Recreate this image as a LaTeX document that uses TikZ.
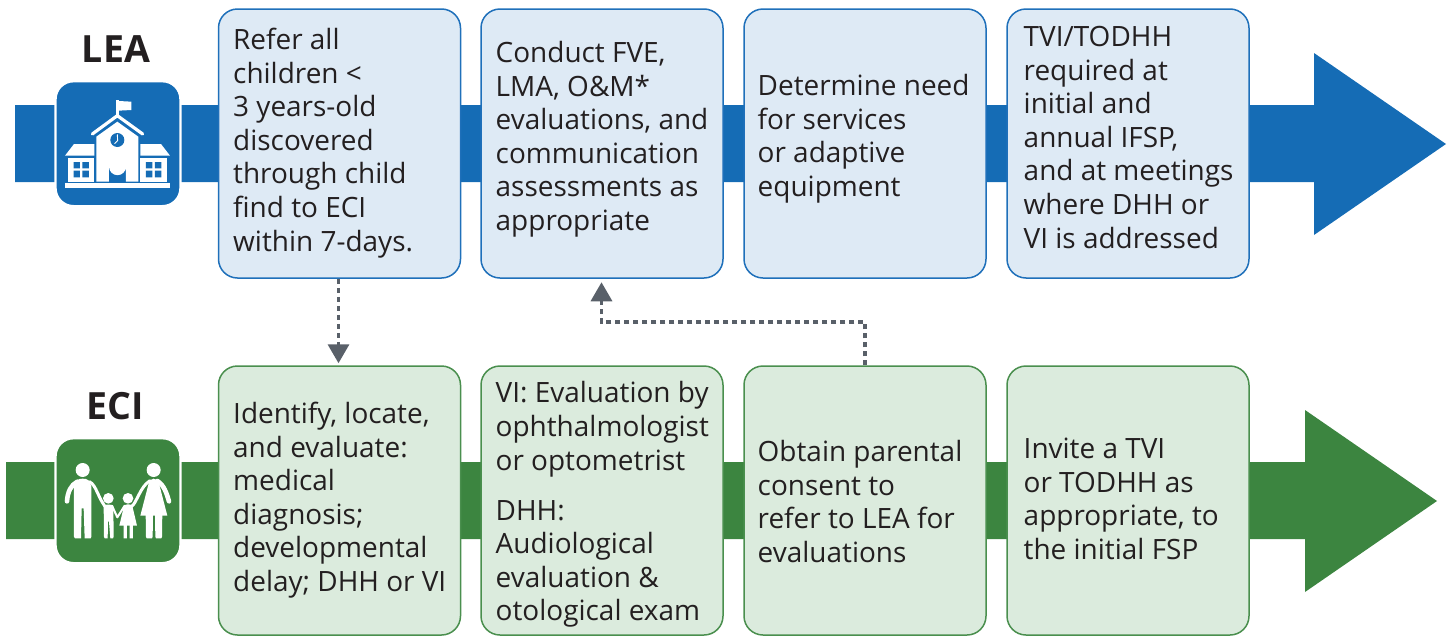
\documentclass[tikz,border=0pt]{standalone}
\usepackage{fontspec}
\setmainfont{Open Sans}
\usetikzlibrary{arrows.meta,calc}
\definecolor{leablue}{HTML}{156CB5}
\definecolor{leafill}{HTML}{DEEAF5}
\definecolor{leaedge}{HTML}{1F70BA}
\definecolor{ecigreen}{HTML}{3C8540}
\definecolor{ecifill}{HTML}{DBEBDD}
\definecolor{eciedge}{HTML}{4A8F4E}
\definecolor{linkgray}{HTML}{596069}
\definecolor{inkdark}{HTML}{231F20}
\tikzset{
  x=1pt,y=-1pt,
  panel/.style={rectangle,rounded corners=19pt,line width=1.5pt,minimum width=242pt,minimum height=269pt,inner sep=0pt},
  leabox/.style={panel,draw=leaedge,fill=leafill},
  ecibox/.style={panel,draw=eciedge,fill=ecifill},
  bodytext/.style={anchor=north west,inner sep=0pt,align=left,text=inkdark,font=\fontsize{27.95}{33.6}\selectfont},
  heading/.style={inner sep=0pt,text=inkdark,font=\fontsize{37.5}{40}\selectfont\bfseries},
  iconbox/.style={rectangle,rounded corners=18pt,draw=white,line width=2.4pt,minimum width=125pt,minimum height=125pt,inner sep=0pt},
  link/.style={draw=linkgray,line width=3.4pt,dash pattern=on 5pt off 4pt,-{Triangle[length=19pt,width=21pt,color=linkgray]}},
}
\newcommand{\linesat}[4]{\node[bodytext] (#1) at (#2,#3-20) {\rule{0pt}{20pt}#4};}
\begin{document}
\begin{tikzpicture}
\useasboundingbox (0,0) rectangle (1452,635);
% band arrows
\fill[leablue] (15,105) -- (1314,105) -- (1314,53) -- (1446,144) -- (1314,235) -- (1314,182) -- (15,182) -- cycle;
\fill[ecigreen] (6,462) -- (1305,462) -- (1305,410) -- (1437,501) -- (1305,592) -- (1305,539) -- (6,539) -- cycle;
% boxes
\node[leabox] (lea1) at (339.5,143.5) {};
\node[leabox] (lea2) at (602,143.5) {};
\node[leabox] (lea3) at (865,143.5) {};
\node[leabox] (lea4) at (1128,143.5) {};
\node[ecibox] (eci1) at (339.5,500.5) {};
\node[ecibox] (eci2) at (602,500.5) {};
\node[ecibox] (eci3) at (865,500.5) {};
\node[ecibox] (eci4) at (1128,500.5) {};
% texts
\linesat{tlea1}{233}{48}{Refer all\\children <\\3 years-old\\discovered\\through child\\find to ECI\\within 7-days.}
\linesat{tlea2}{495.5}{61}{Conduct FVE,\\LMA, O\&M*\\evaluations, and\\communication\\assessments as\\appropriate}
\linesat{tlea3}{757.5}{94}{Determine need\\for services\\or adaptive\\equipment}
\linesat{tlea4}{1023.5}{46}{TVI/TODHH\\required at\\initial and\\annual IFSP,\\and at meetings\\where DHH or\\VI is addressed}
\linesat{teci1}{233}{422}{Identify, locate,\\and evaluate:\\medical\\diagnosis;\\developmental\\delay; DHH or VI}
\linesat{teci2}{495.5}{401.5}{VI: Evaluation by\\ophthalmologist\\or optometrist\\[16.4pt]DHH:\\Audiological\\evaluation \&\\otological exam}
\linesat{teci3}{757.5}{460}{Obtain parental\\consent to\\refer to LEA for\\evaluations}
\linesat{teci4}{1023.5}{458}{Invite a TVI\\or TODHH as\\appropriate, to\\the initial FSP}
% headings
\node[heading] (hlea) at (116,49) {LEA};
\node[heading] (heci) at (115,406) {ECI};
% connectors
\coordinate (downx) at (338.5,0);
\coordinate (upx) at (601.5,0);
\coordinate (startx) at (865,0);
\coordinate (elbow) at (865,322);
\draw[link,shorten >=2pt] (lea1.south -| downx) -- (eci1.north -| downx);
\draw[link,shorten >=3.5pt] (eci3.north -| startx) -- (elbow) -- (elbow -| upx) -- (lea2.south -| upx);
% school icon
\node[iconbox,fill=leablue] (school) at (118,143.7) {};
\begin{scope}[shift={(0,20)},x=0.33333pt,y=-0.33333pt]
  \fill[white] (349,240) rectangle (356,290);
  \fill[white] (356,243) -- (394,245) -- (394,270) -- (356,272) -- cycle;
  \draw[white,line width=3.2pt,line cap=round,line join=miter] (277,342) -- (352,287) -- (428,342);
  \fill[white] (289,350) -- (352,305) -- (415,350) -- (415,485) -- (378,485) -- (378,440) arc[start angle=0,end angle=180,x radius=25.5,y radius=25.5] -- (327,485) -- (289,485) -- cycle;
  \fill[leablue] (352,360) circle[radius=21];
  \draw[white,line width=0.9pt,line cap=round] (352,344) -- (353,362) -- (344,371);
  \fill[white] (195,407) -- (222,372) -- (283,372) -- (283,407) -- cycle;
  \fill[white] (421,372) -- (483,372) -- (510,407) -- (421,407) -- cycle;
  \fill[white] (205,415) rectangle (283,485);
  \fill[white] (421,415) rectangle (500,485);
  \fill[leablue] (221,426) rectangle (240,445) (247,426) rectangle (267,445) (221,452) rectangle (240,472) (247,452) rectangle (267,472);
  \fill[leablue] (438,426) rectangle (457,445) (465,426) rectangle (484,445) (438,452) rectangle (457,472) (465,452) rectangle (484,472);
  \fill[white] (194,490) rectangle (510,503);
\end{scope}
% family icon
\node[iconbox,fill=ecigreen] (family) at (118,500.7) {};
\begin{scope}[shift={(0,380)},x=0.33333pt,y=-0.33333pt,line cap=round,line join=round]
  % heads
  \fill[white] (248,270) circle[radius=21] (461,270) circle[radius=21] (325,355) circle[radius=16] (384,355) circle[radius=16];
  % father
  \fill[white] (222,320) .. controls (225,300) and (235,296) .. (248,296) .. controls (262,296) and (270,300) .. (274,320) -- (274,470) -- (272,475) -- (254,475) -- (251,385) -- (245,385) -- (243,475) -- (225,475) -- (222,470) -- cycle;
  \draw[white,line width=4.6pt] (201,364) .. controls (203,335) and (213,315) .. (232,305);
  \draw[white,line width=3pt] (268,305) .. controls (290,315) and (293,355) .. (322,388);
  % child one
  \fill[white] (311,378) .. controls (315,372) and (335,372) .. (340,378) -- (341,470) -- (339,475) -- (331,475) -- (327,425) -- (324,425) -- (323,475) -- (314,475) -- (312,470) -- cycle;
  \draw[white,line width=2pt] (336,377) -- (352,412) -- (374,377);
  % child two
  \fill[white] (372,378) .. controls (378,371) and (391,371) .. (397,378) -- (411,437) -- (358,437) -- cycle;
  \fill[white] (371,435) rectangle (381,475) (389,435) rectangle (399,475);
  \draw[white,line width=3pt] (394,380) .. controls (410,370) and (420,320) .. (450,302);
  % mother
  \fill[white] (444,318) .. controls (447,300) and (455,296) .. (461,296) .. controls (468,296) and (476,300) .. (479,318) -- (502,407) -- (421,407) -- cycle;
  \fill[white] (437,400) -- (459,400) -- (458,470) -- (456,475) -- (440,475) -- (438,470) -- cycle;
  \fill[white] (465,400) -- (487,400) -- (486,470) -- (484,475) -- (468,475) -- (466,470) -- cycle;
  \draw[white,line width=4.6pt] (507,364) .. controls (500,340) and (492,315) .. (472,303);
\end{scope}
\end{tikzpicture}
\end{document}
